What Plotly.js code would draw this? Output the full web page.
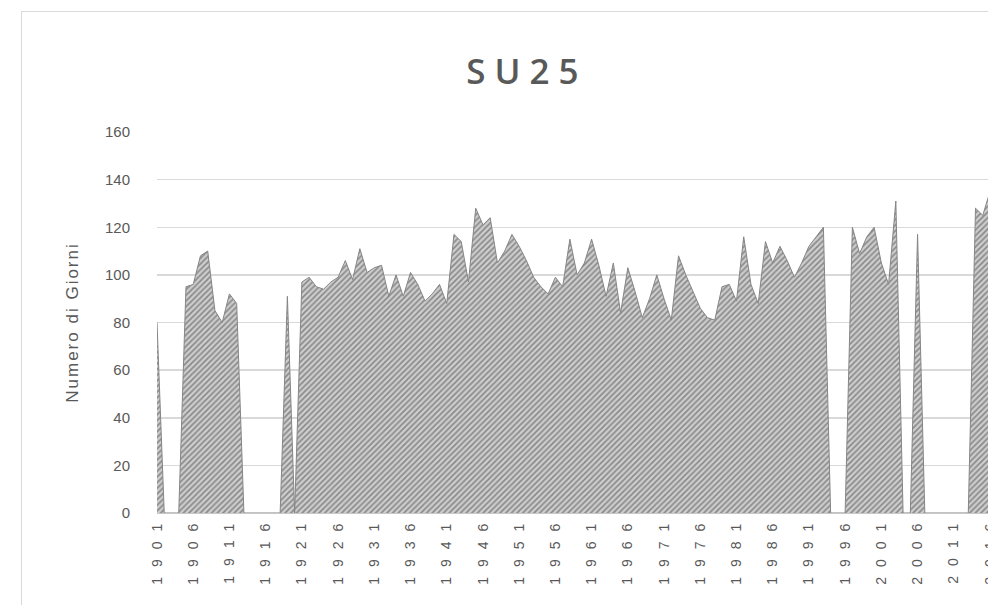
<!DOCTYPE html>
<html><head><meta charset="utf-8">
<script src="https://cdn.plot.ly/plotly-3.0.1.min.js"></script>
<style>
html,body{margin:0;padding:0;background:#fff;overflow:hidden;width:988px;height:605px;}
#frame{position:absolute;left:21px;top:11px;width:1010px;height:640px;border-left:1px solid #d9d9d9;border-top:1px solid #d9d9d9;}
#chart{position:absolute;left:0;top:0;width:1000px;height:620px;}
#chart .xtick text{letter-spacing:10px;}
#chart .gtitle{letter-spacing:9px;}
#chart .ytitle{letter-spacing:2px;}
</style></head><body>
<div id="frame"><div id="chart"></div></div>
<script>
// Years (categories)
const firstYear = 1901;
const lastYear = 2016;
const years = [];
for (let y = firstYear; y <= lastYear; y++) years.push(y);

// Number of days (SU25) per year, null = missing
const su25Days = [
  80, null, null, null, 95, 96, 108, 110, 85, 80,        // 1901-1910
  92, 88, null, null, null, null, null, null, 91, null,  // 1911-1920
  97, 99, 95, 94, 97, 99, 106, 98, 111, 101,             // 1921-1930
  103, 104, 91, 100, 91, 101, 96, 89, 92, 96,            // 1931-1940
  88, 117, 114, 97, 128, 121, 124, 105, 110, 117,        // 1941-1950
  112, 106, 99, 95, 92, 99, 95, 115, 100, 105,           // 1951-1960
  115, 104, 91, 105, 84, 103, 93, 82, 90, 100,           // 1961-1970
  90, 81, 108, 100, 93, 86, 82, 81, 95, 96,              // 1971-1980
  89, 116, 96, 88, 114, 105, 112, 106, 99, 105,          // 1981-1990
  112, 116, 120, null, null, null, 120, 109, 116, 120,   // 1991-2000
  105, 96, 131, null, null, 117, null, null, null, null, // 2001-2010
  null, null, null, 128, 125, 135                        // 2011-2016
];

// Tick labels every 5 years
const tickYears = [1901,1906,1911,1916,1921,1926,1931,1936,1941,1946,1951,1956,1961,1966,1971,1976,1981,1986,1991,1996,2001,2006,2011,2016];
const tickLabels = tickYears.map(String);
const yTicks = [0,20,40,60,80,100,120,140,160];

// Excel draws empty cells of an area chart down to the baseline
const plotted = su25Days.map(v => v === null ? 0 : v);

const trace = {
  x: years,
  y: plotted,
  type: 'scatter',
  mode: 'lines',
  fill: 'tozeroy',
  line: {color: '#858585', width: 1},
  fillcolor: '#bdbdbd',
  fillpattern: {shape: '/', fgcolor: '#878787', bgcolor: '#cdcdcd', size: 4, solidity: 0.38},
  hoverinfo: 'x+y'
};

const layout = {
  width: 1000,
  height: 620,
  margin: {l: 135, r: 32, t: 120, b: 119},
  paper_bgcolor: '#ffffff',
  plot_bgcolor: '#ffffff',
  showlegend: false,
  font: {family: 'Liberation Sans, Arial, sans-serif', color: '#595959', size: 13},
  title: {
    text: 'SU25',
    font: {family: 'Open Sans, Liberation Sans, sans-serif', size: 35, color: '#595959', weight: 600},
    x: 0.505, xanchor: 'center', xref: 'container',
    y: 1 - 60/620, yanchor: 'middle', yref: 'container'
  },
  xaxis: {
    range: [firstYear, lastYear],
    tickmode: 'array',
    tickvals: tickYears,
    ticktext: tickLabels,
    tickangle: -90,
    tickfont: {size: 14, color: '#595959'},
    showgrid: false,
    zeroline: false,
    showline: true,
    linecolor: '#c8c8c8',
    linewidth: 1,
    ticks: '',
    ticklabelstandoff: -6,
    automargin: false,
    fixedrange: true
  },
  yaxis: {
    range: [0, 160],
    tickmode: 'array',
    tickvals: yTicks,
    ticktext: yTicks.map(String),
    tickfont: {size: 15, color: '#595959'},
    showgrid: true,
    gridcolor: '#d9d9d9',
    gridwidth: 1.5,
    zeroline: false,
    showline: false,
    ticks: '',
    ticklabelstandoff: 26,
    automargin: false,
    title: {text: 'Numero di Giorni', font: {size: 17, color: '#595959'}, standoff: 22},
    fixedrange: true
  }
};

Plotly.newPlot('chart', [trace], layout, {displayModeBar: false, staticPlot: true});
</script></body></html>
